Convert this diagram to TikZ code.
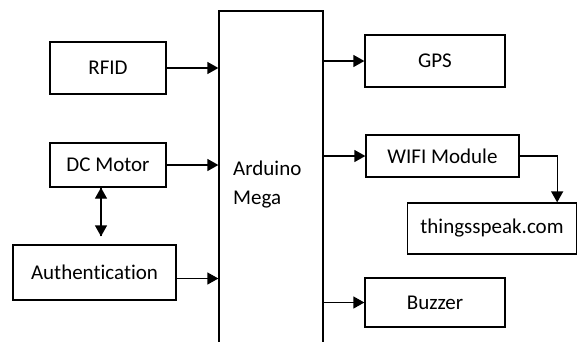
\documentclass[tikz,border=0pt]{standalone}
\usepackage{fontspec}
\setmainfont{Carlito}[Ligatures=NoCommon]
\usetikzlibrary{arrows.meta}

\begin{document}
\begin{tikzpicture}[x=1pt, y=-1pt, >={Triangle[length=11pt,width=12pt]},
  block/.style={draw, line width=1.3pt, inner sep=0pt, align=center,
    font=\fontsize{21}{29}\selectfont},
  link/.style={->, line width=1.3pt}]

\useasboundingbox (0,0) rectangle (577,341);

% Inputs
\node[block, minimum width=116pt, minimum height=52pt] (rfid) at (108,68) {RFID};
\node[block, minimum width=116pt, minimum height=44pt] (dcmotor) at (108,165) {DC Motor};
\node[block, minimum width=163pt, minimum height=55pt] (auth) at (94.5,272.5) {Authentication};

% Controller
\node[block, minimum width=104pt, minimum height=333pt] (arduino) at (271,177.5) {};
\node[font=\fontsize{21}{29}\selectfont, align=left, anchor=west, inner sep=0pt] (ardlabel) at (233,185) {Arduino\\Mega};

% Outputs
\node[block, minimum width=140pt, minimum height=52pt] (gps) at (435,61) {GPS};
\node[block, minimum width=153pt, minimum height=42pt] (wifi) at (442.5,156) {WIFI Module};
\node[block, minimum width=169pt, minimum height=51pt] (thingspeak) at (492,228.5) {thingsspeak.com};
\node[block, minimum width=140pt, minimum height=49pt] (buzzer) at (435,302.5) {Buzzer};

% Connections
\draw[link] (rfid.east) -- (rfid.east -| arduino.west);
\draw[link] (dcmotor.east) -- (dcmotor.east -| arduino.west);
\draw[link] ([yshift=-6pt]auth.east) -- ([yshift=-6pt]auth.east -| arduino.west);
\draw[link] ([xshift=-7pt]dcmotor.south) -- ([xshift=-7pt,yshift=8pt]dcmotor.south |- auth.north);
\draw[link] ([xshift=-7pt,yshift=8pt]dcmotor.south |- auth.north) -- ([xshift=-7pt]dcmotor.south);
\draw[link] (arduino.east |- gps.west) -- (gps.west);
\draw[link] (arduino.east |- wifi.west) -- (wifi.west);
\draw[link] (arduino.east |- buzzer.west) -- (buzzer.west);
\draw[link] (wifi.east) -| ([xshift=-20pt]thingspeak.north east);

\end{tikzpicture}
\end{document}
